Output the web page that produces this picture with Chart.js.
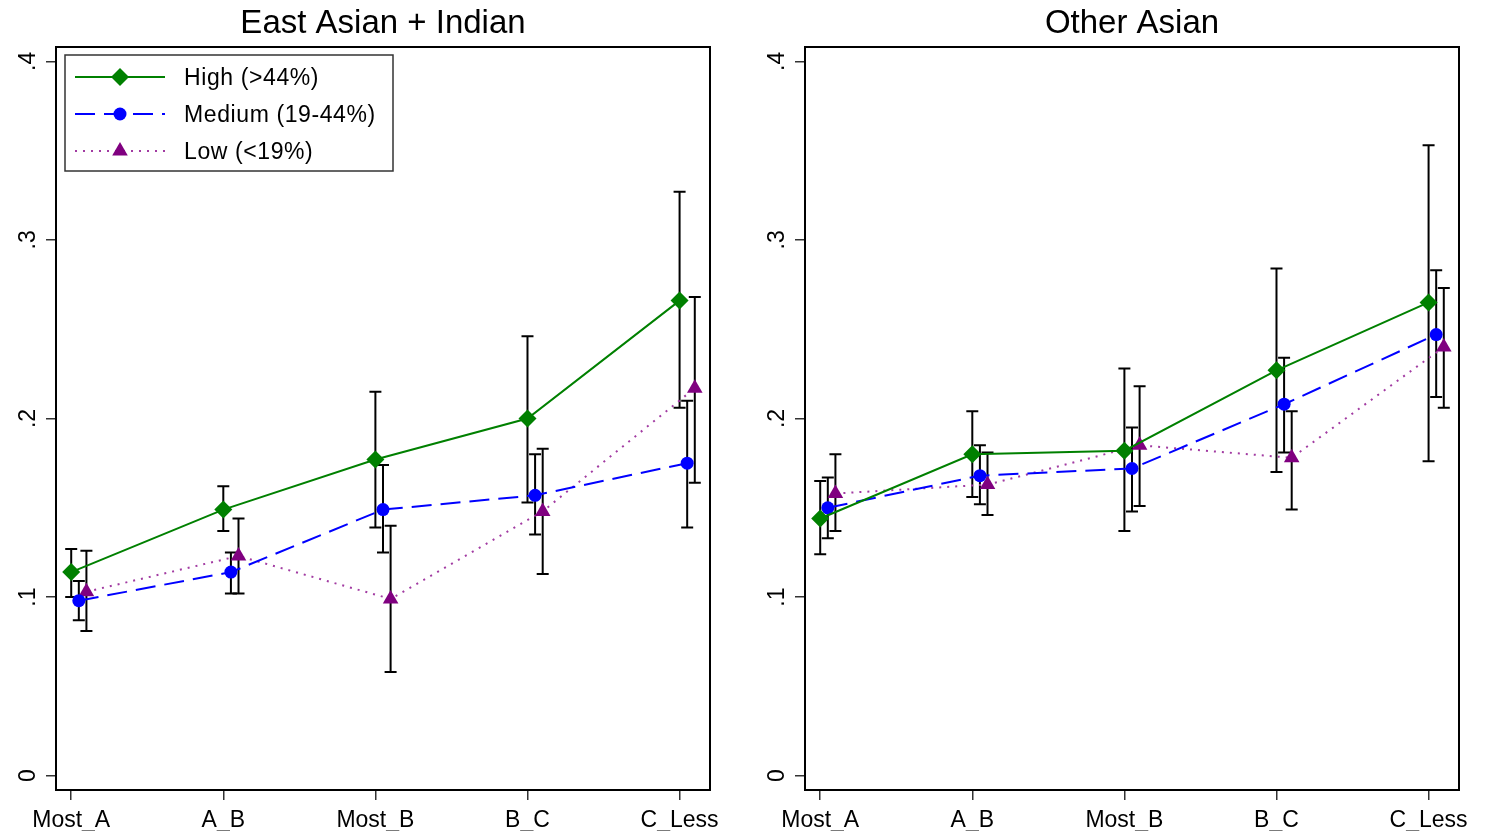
<!DOCTYPE html>
<html>
<head>
<meta charset="utf-8">
<script src="https://cdn.jsdelivr.net/npm/chart.js@4.4.1/dist/chart.umd.min.js"></script>
<style>
  html, body { margin: 0; padding: 0; background: #fff; }
  #wrap { position: relative; width: 1491px; height: 831px; overflow: hidden; }
  #left { position: absolute; left: 0; top: 0; }
  #right { position: absolute; left: 745px; top: 0; }
</style>
</head>
<body>
<div id="wrap">
  <canvas id="left" width="745" height="831"></canvas>
  <canvas id="right" width="746" height="831"></canvas>
</div>
<script>
'use strict';

var categories = ['Most_A', 'A_B', 'Most_B', 'B_C', 'C_Less'];
var yTicks = [0, 0.1, 0.2, 0.3, 0.4];
var seriesNames = ['High (>44%)', 'Medium (19-44%)', 'Low (<19%)'];

// EAST ASIAN + INDIAN
var eaHigh   = [0.114, 0.149, 0.177, 0.200, 0.266];
var eaHighLo = [0.100, 0.137, 0.139, 0.153, 0.206];
var eaHighHi = [0.127, 0.162, 0.215, 0.246, 0.327];
var eaMed    = [0.098, 0.114, 0.149, 0.157, 0.175];
var eaMedLo  = [0.087, 0.102, 0.125, 0.135, 0.139];
var eaMedHi  = [0.109, 0.125, 0.174, 0.180, 0.210];
var eaLow    = [0.103, 0.123, 0.099, 0.148, 0.217];
var eaLowLo  = [0.081, 0.102, 0.058, 0.113, 0.164];
var eaLowHi  = [0.126, 0.144, 0.140, 0.183, 0.268];

// OTHER ASIAN
var oaHigh   = [0.144, 0.180, 0.182, 0.227, 0.265];
var oaHighLo = [0.124, 0.156, 0.137, 0.170, 0.176];
var oaHighHi = [0.165, 0.204, 0.228, 0.284, 0.353];
var oaMed    = [0.150, 0.168, 0.172, 0.208, 0.247];
var oaMedLo  = [0.133, 0.152, 0.148, 0.181, 0.212];
var oaMedHi  = [0.167, 0.185, 0.195, 0.234, 0.283];
var oaLow    = [0.158, 0.163, 0.185, 0.178, 0.240];
var oaLowLo  = [0.137, 0.146, 0.151, 0.149, 0.206];
var oaLowHi  = [0.180, 0.181, 0.218, 0.204, 0.273];

var FONT = "'Liberation Sans', Arial, Helvetica, sans-serif";
var offsets = [0, 0.05, 0.1];
var markColors = ['#008000', '#0000ff', '#800080'];
var lineColors = ['#008000', '#0000ff', '#a23ba2'];
var shapes = ['rectRot', 'circle', 'triangle'];
var radii = [9, 6.5, 9];
var widths = [2, 2, 2];
var dashes = [[], [20, 9], [2, 6]];

function makeSet(k, est, lo, hi) {
	return {
		label: seriesNames[k],
		data: est.map(function(v, i) { return {x: i + 1 + offsets[k], y: v}; }),
		lo: lo,
		hi: hi,
		borderColor: lineColors[k],
		backgroundColor: markColors[k],
		pointBackgroundColor: markColors[k],
		pointBorderColor: markColors[k],
		pointBorderWidth: 0,
		pointStyle: shapes[k],
		pointRadius: radii[k],
		pointHoverRadius: radii[k],
		borderWidth: widths[k],
		borderDash: dashes[k],
		tension: 0,
		fill: false
	};
}

// error bars drawn from lo/hi through the scales
var errorBars = {
	id: 'errorBars',
	beforeDatasetsDraw: function(chart) {
		var ctx = chart.ctx, xs = chart.scales.x, ys = chart.scales.y;
		ctx.save();
		ctx.strokeStyle = '#000';
		ctx.lineWidth = 2;
		chart.data.datasets.forEach(function(ds) {
			ds.data.forEach(function(p, i) {
				var x = xs.getPixelForValue(p.x);
				var y1 = ys.getPixelForValue(ds.lo[i]);
				var y2 = ys.getPixelForValue(ds.hi[i]);
				ctx.beginPath();
				ctx.moveTo(x, y1); ctx.lineTo(x, y2);
				ctx.moveTo(x - 6, y1); ctx.lineTo(x + 6, y1);
				ctx.moveTo(x - 6, y2); ctx.lineTo(x + 6, y2);
				ctx.stroke();
			});
		});
		ctx.restore();
	}
};

// frame, rotated y labels, panel title
var panelDeco = {
	id: 'panelDeco',
	afterDraw: function(chart, args, opts) {
		var ctx = chart.ctx, a = chart.chartArea, ys = chart.scales.y;
		ctx.save();
		ctx.strokeStyle = '#000';
		ctx.lineWidth = 2;
		ctx.strokeRect(a.left, a.top, a.right - a.left, a.bottom - a.top);

		ctx.fillStyle = '#000';
		ctx.font = '23px ' + FONT;
		ctx.textAlign = 'center';
		ctx.textBaseline = 'middle';
		ys.ticks.forEach(function(t) {
			var y = ys.getPixelForValue(t.value);
			ctx.save();
			ctx.translate(a.left - 27, y);
			ctx.rotate(-Math.PI / 2);
			ctx.fillText(t.label, 0, 0);
			ctx.restore();
		});

		ctx.font = '33px ' + FONT;
		ctx.fillText(opts.text, (a.left + a.right) / 2, 24);
		ctx.restore();
	}
};

// legend box inside left panel
var boxLegend = {
	id: 'boxLegend',
	afterDraw: function(chart, args, opts) {
		if (!opts.show) return;
		var ctx = chart.ctx;
		ctx.save();
		ctx.strokeStyle = '#333';
		ctx.lineWidth = 1.5;
		ctx.strokeRect(65, 55, 328, 116);
		var rows = [77, 114, 151];
		chart.data.datasets.forEach(function(ds, k) {
			var y = rows[k];
			ctx.strokeStyle = lineColors[k];
			ctx.lineWidth = widths[k];
			ctx.setLineDash(dashes[k]);
			ctx.beginPath();
			ctx.moveTo(75, y); ctx.lineTo(165, y);
			ctx.stroke();
			ctx.setLineDash([]);
			ctx.fillStyle = markColors[k];
			Chart.helpers.drawPoint(ctx, {pointStyle: shapes[k], radius: radii[k], rotation: 0, borderWidth: 0}, 120, y);
			ctx.fillStyle = '#000';
			ctx.font = '23px ' + FONT;
			ctx.letterSpacing = '0.6px';
			ctx.textAlign = 'left';
			ctx.textBaseline = 'middle';
			ctx.fillText(ds.label, 184, y + 2);
			ctx.letterSpacing = '0px';
		});
		ctx.restore();
	}
};

function makeChart(id, title, sets, yWidth, padRight, showLegend) {
	return new Chart(document.getElementById(id).getContext('2d'), {
		type: 'line',
		data: { datasets: sets },
		plugins: [errorBars, panelDeco, boxLegend],
		options: {
			responsive: false,
			animation: false,
			devicePixelRatio: 1,
			layout: { padding: { top: 47, right: padRight, left: 0, bottom: 0 } },
			scales: {
				x: {
					type: 'linear',
					min: 0.9,
					max: 5.2,
					afterBuildTicks: function(s) { s.ticks = categories.map(function(c, i) { return {value: i + 1}; }); },
					afterFit: function(s) { s.height = 41; },
					grid: { drawOnChartArea: false, drawTicks: true, tickLength: 10, color: '#333', lineWidth: 1.5 },
					border: { display: false },
					ticks: {
						autoSkip: false,
						maxRotation: 0,
						padding: 7,
						color: '#000',
						font: { family: FONT, size: 23 },
						callback: function(v) { return categories[Math.round(v) - 1]; }
					}
				},
				y: {
					type: 'linear',
					min: -0.008,
					max: 0.408,
					afterBuildTicks: function(s) { s.ticks = yTicks.map(function(v) { return {value: v}; }); },
					afterFit: function(s) { s.width = yWidth; },
					grid: { drawOnChartArea: false, drawTicks: true, tickLength: 10, color: '#333', lineWidth: 1.5 },
					border: { display: false },
					ticks: {
						display: false,
						callback: function(v) { return v === 0 ? '0' : String(Math.round(v * 10) / 10).replace(/^0/, ''); }
					}
				}
			},
			plugins: {
				legend: { display: false },
				tooltip: { enabled: false },
				title: { display: false },
				panelDeco: { text: title },
				boxLegend: { show: showLegend }
			}
		}
	});
}

makeChart('left', 'East Asian + Indian', [
	makeSet(0, eaHigh, eaHighLo, eaHighHi),
	makeSet(1, eaMed, eaMedLo, eaMedHi),
	makeSet(2, eaLow, eaLowLo, eaLowHi)
], 56, 35, true);

makeChart('right', 'Other Asian', [
	makeSet(0, oaHigh, oaHighLo, oaHighHi),
	makeSet(1, oaMed, oaMedLo, oaMedHi),
	makeSet(2, oaLow, oaLowLo, oaLowHi)
], 60, 32, false);
</script>
</body>
</html>
